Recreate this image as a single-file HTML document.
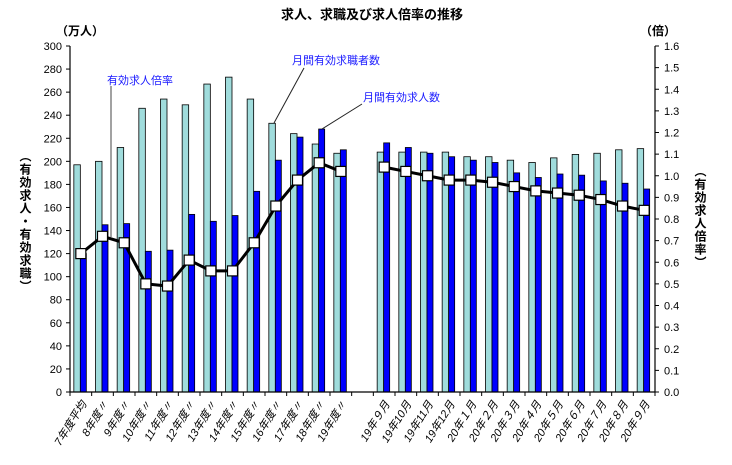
<!DOCTYPE html>
<html><head><meta charset="utf-8"><style>
body{margin:0;background:#fff;}
svg{display:block;font-family:"Liberation Sans","Noto Sans CJK JP",sans-serif;}
</style></head><body>
<svg id="chart" width="732" height="465" viewBox="0 0 732 465">
<text x="372" y="19" text-anchor="middle" font-size="13" font-weight="bold">求人、求職及び求人倍率の推移</text>
<text x="56" y="35" font-size="12" font-weight="bold">（万人）</text>
<text x="640" y="35" font-size="12" font-weight="bold">（倍）</text>
<text x="25" y="150" font-size="12" font-weight="bold" writing-mode="tb" glyph-orientation-vertical="0" letter-spacing="1">（有効求人・有効求職）</text>
<text x="700" y="165" font-size="12" font-weight="bold" writing-mode="tb" glyph-orientation-vertical="0" letter-spacing="1">（有効求人倍率）</text>
<g id="plot"></g>
<g>
<line x1="111" y1="86" x2="111" y2="237" stroke="#444" stroke-width="1"/>
<text x="107" y="84" font-size="11" fill="#1a1aff">有効求人倍率</text>
<line x1="304" y1="68" x2="274" y2="123" stroke="#222" stroke-width="1"/>
<text x="292" y="64" font-size="11" fill="#1a1aff">月間有効求職者数</text>
<line x1="362" y1="104" x2="322" y2="129" stroke="#222" stroke-width="1"/>
<text x="363" y="101" font-size="11" fill="#1a1aff">月間有効求人数</text>
</g>
</svg>
<script>
const categories=["7年度平均","8年度〃","9年度〃","10年度〃","11年度〃","12年度〃","13年度〃","14年度〃","15年度〃","16年度〃","17年度〃","18年度〃","19年度〃",null,"19年９月","19年10月","19年11月","19年12月","20年１月","20年２月","20年３月","20年４月","20年５月","20年６月","20年７月","20年８月","20年９月"];
const seekers=[197,200,212,246,254,249,267,273,254,233,224,215,207,null,208,208,208,208,204,204,201,199,203,206,207,210,211];
const openings=[120,145,146,122,123,154,148,153,174,201,221,228,210,null,216,212,207,204,201,199,190,186,189,188,183,181,176];
const ratios=[0.64,0.72,0.69,0.50,0.49,0.61,0.56,0.56,0.69,0.86,0.98,1.06,1.02,null,1.04,1.02,1.00,0.98,0.98,0.97,0.95,0.93,0.92,0.91,0.89,0.86,0.84];
const leftTicks=[0,20,40,60,80,100,120,140,160,180,200,220,240,260,280,300];
const rightTicks=[0,0.1,0.2,0.3,0.4,0.5,0.6,0.7,0.8,0.9,1.0,1.1,1.2,1.3,1.4,1.5,1.6];
const X0=70,X1=655,Y0=392,Y1=46;
const slot=(X1-X0)/categories.length;
const yL=v=>Y0-(v/300)*(Y0-Y1);
const yR=v=>Y0-(v/1.6)*(Y0-Y1);
const xC=i=>X0+slot*(i+0.5);
const NS="http://www.w3.org/2000/svg";
const g=document.getElementById('plot');
function mk(t,a,p){const e=document.createElementNS(NS,t);for(const k in a)e.setAttribute(k,a[k]);(p||g).appendChild(e);return e;}
// bars
categories.forEach((c,i)=>{
  if(c===null)return;
  const b1=mk('rect',{x:xC(i)-7,y:yL(seekers[i]),width:6.5,height:Y0-yL(seekers[i]),fill:'#a0dcdc',stroke:'#000','stroke-width':0.8});
  
  
  const b2=mk('rect',{x:xC(i)-0.5,y:yL(openings[i]),width:6,height:Y0-yL(openings[i]),fill:'#0000ff',stroke:'#000','stroke-width':0.8});
  
  
});
// axes
const ax=mk('path',{d:`M${X0},${Y1}V${Y0}H${X1}V${Y1}`,fill:'none',stroke:'#000','stroke-width':1.2});


for(let i=0;i<=categories.length;i++){mk('line',{x1:X0+slot*i,x2:X0+slot*i,y1:Y0,y2:Y0+4,stroke:'#000'});}
leftTicks.forEach(v=>{
  mk('line',{x1:X0-4,x2:X0,y1:yL(v),y2:yL(v),stroke:'#000'});
  const t=mk('text',{x:X0-8,y:yL(v)+4,'text-anchor':'end','font-size':11});
  t.textContent=v;
  
  
});
rightTicks.forEach(v=>{
  mk('line',{x1:X1,x2:X1+4,y1:yR(v),y2:yR(v),stroke:'#000'});
  const t=mk('text',{x:X1+9,y:yR(v)+4,'font-size':11});
  t.textContent=v.toFixed(1);
  
  
});
// ratio line (two segments)
[[0,12],[14,26]].forEach(([a,b])=>{
  let d='';for(let i=a;i<=b;i++)d+=(i===a?'M':'L')+xC(i)+','+yR(ratios[i]);
  const l=mk('path',{d,fill:'none',stroke:'#000','stroke-width':3});
  
  
});
ratios.forEach((r,i)=>{
  if(r===null)return;
  const m=mk('rect',{x:xC(i)-5,y:yR(r)-5,width:10,height:10,fill:'#fff',stroke:'#000','stroke-width':1.2});
  
  
});
// x labels
categories.forEach((c,i)=>{
  if(c===null)return;
  const x=xC(i)+6,y=Y0+12;
  const t=mk('text',{x,y,'text-anchor':'end','font-size':11,'font-style':'italic',transform:`rotate(-58 ${x} ${y})`});
  t.textContent=c;
  
  
});
</script>
</body></html>
